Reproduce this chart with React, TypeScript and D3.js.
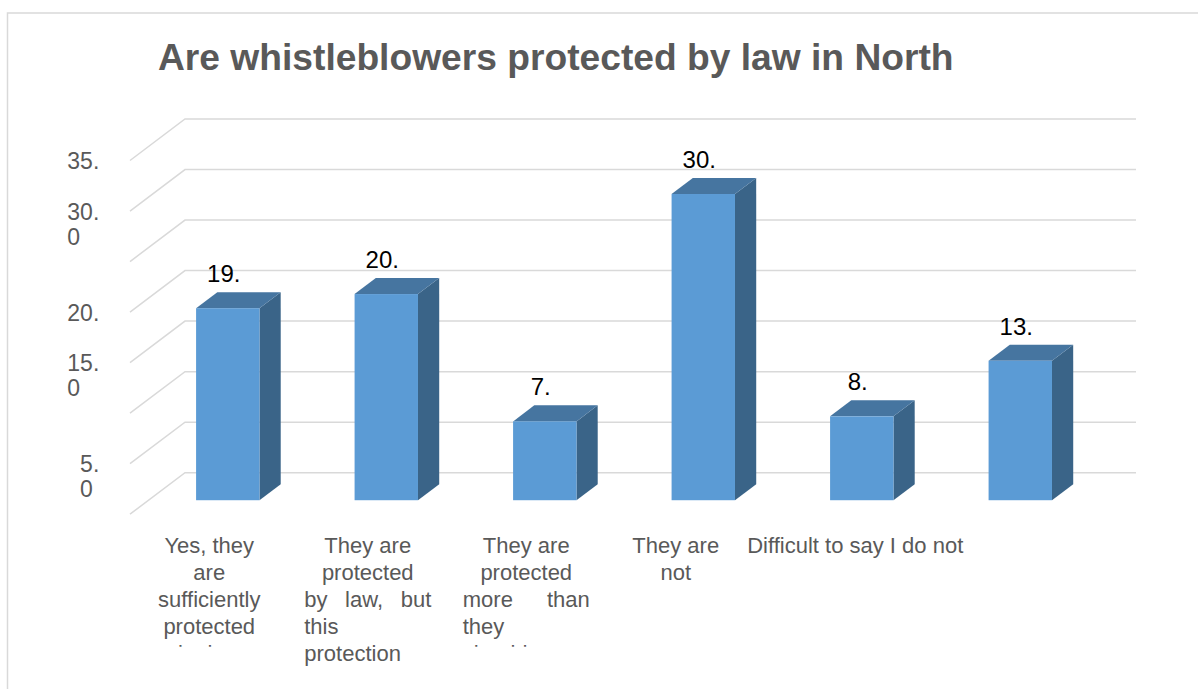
import React from "react";
import * as d3 from "d3";

const title = "Are whistleblowers protected by law in North";
const categoryKeys = ["yes", "butInsufficient", "more", "not", "difficult", "other"];
const values = [19.0, 20.4, 7.8, 30.3, 8.3, 13.8];
const categoryLines = [
  ["Yes, they", "are", "sufficiently", "protected", "by law"],
  ["They are", "protected", "by law, but", "this", "protection"],
  ["They are", "protected", "more than", "they", "should"],
  ["They are", "not"],
  ["Difficult to say I do not"],
  [],
];
const categoryVisibleLines = [4, 5, 4, 2, 1, 0];
const yGridValues = [0, 5, 10, 15, 20, 25, 30, 35];
const yTickValues = [35, 30, 20, 15, 5];
const yTickLines = [["35."], ["30.", "0"], ["20."], ["15.", "0"], ["5.", "0"]];

const W = 1198;
const H = 689;
const FONT = "'Liberation Sans', Arial, Helvetica, sans-serif";
const GRID = "#D9D9D9";
const TEXT = "#595959";
const DX = -55; // depth vector from back wall (z=0) to front edge (z=1)
const DY = 41.5;
const Z_FRONT = 0.663;
const Z_BACK = 0.277;
const JUSTIFY = new Set([1, 2]);
const BLOCK_W = 127;
const LABEL_NUDGE = [0, 0, 0, -9, 12, 0];
const CAT_FS = 22;

let ctx: CanvasRenderingContext2D | null = null;
function measure(s: string, fs: number) {
  if (!ctx) ctx = document.createElement("canvas").getContext("2d");
  if (!ctx) return s.length * fs * 0.5;
  ctx.font = `${fs}px 'Liberation Sans', Arial, sans-serif`;
  return ctx.measureText(s).width;
}

export default function App() {
  const x = d3.scaleBand<string>().domain(categoryKeys).range([185, 1136]).padding(0);
  const y = d3.scaleLinear().domain([0, 35]).range([472.7, 119]);
  const bw = x.bandwidth();
  const barW = bw * 0.4;
  const fx = DX * Z_FRONT, fy = DY * Z_FRONT;
  const sx = DX * (Z_BACK - Z_FRONT), sy = DY * (Z_BACK - Z_FRONT);
  const pts = (a: number[][]) => a.map((p) => p.join(",")).join(" ");
  const lineH = 26.8;
  const labelTop = 553.3;

  return (
    <svg width={W} height={H} style={{ position: "absolute", left: 0, top: 0, background: "#fff" }}>
      <defs>
        {categoryKeys.map((k, i) => (
          <clipPath id={`clip-${i}`} key={k}>
            <rect x={0} y={0} width={W} height={labelTop + (categoryVisibleLines[i] - 1) * lineH + 13} />
          </clipPath>
        ))}
      </defs>
      <rect x={7.5} y={13} width={W} height={H} fill="none" stroke={GRID} strokeWidth={1.5} />
      <text x={158} y={69.5} fontFamily={FONT} fontWeight="bold" fontSize={37.2} fill={TEXT}>{title}</text>

      {yGridValues.map((v) => {
        const yy = y(v);
        const x0 = x.range()[0], x1 = x.range()[1];
        return (
          <path key={v} d={`M${x0 + DX},${yy + DY}L${x0},${yy}L${x1},${yy}`} fill="none" stroke={GRID} strokeWidth={1.5} />
        );
      })}

      {yTickValues.map((v, i) => {
        const lines = yTickLines[i];
        const fs = 23;
        const left = 99.3 - measure(lines[0], fs);
        return (
          <text key={v} fontFamily={FONT} fontSize={fs} fill={TEXT}>
            {lines.map((l, j) => (
              <tspan key={j} x={left} y={y(v) + DY + 8.5 + j * 25.3}>{l}</tspan>
            ))}
          </text>
        );
      })}

      {categoryKeys.map((k, i) => {
        const v = values[i];
        const left = (x(k) as number) + (bw - barW) / 2 + fx;
        const right = left + barW;
        const top = y(v) + fy;
        const bottom = y(0) + fy;
        return (
          <g key={k}>
            <polygon points={pts([[right, top], [right + sx, top + sy], [right + sx, bottom + sy], [right, bottom]])} fill="#3A6488" />
            <polygon points={pts([[left, top], [right, top], [right + sx, top + sy], [left + sx, top + sy]])} fill="#4675A0" />
            <rect x={left} y={top} width={barW} height={bottom - top} fill="#5B9BD5" />
            <text x={(left + right) / 2 - 4} y={top + sy - 10} textAnchor="middle" fontFamily={FONT} fontSize={24} fill="#000">
              {v.toFixed(1).slice(0, -1)}
            </text>
          </g>
        );
      })}

      {categoryKeys.map((k, i) => {
        const cx = (x(k) as number) + bw / 2 + DX + LABEL_NUDGE[i];
        const lines = categoryLines[i];
        const justify = JUSTIFY.has(i);
        const firstJust = justify ? lines.findIndex((l, j) => j > 0 && l.includes(" ")) : -1;
        const bl = cx - BLOCK_W / 2;
        return (
          <g key={k} clipPath={`url(#clip-${i})`} fontFamily={FONT} fontSize={CAT_FS} fill={TEXT}>
            {lines.map((l, j) => {
              const yy = labelTop + j * lineH;
              if (!justify || j < firstJust) {
                return <text key={j} x={cx} y={yy} textAnchor="middle">{l}</text>;
              }
              if (j === firstJust) {
                const words = l.split(" ");
                const ws = words.map((w) => measure(w, CAT_FS));
                const gap = (BLOCK_W - d3.sum(ws)) / (words.length - 1);
                let cur = bl;
                return (
                  <text key={j} y={yy}>
                    {words.map((w, m) => {
                      const xx = cur;
                      cur += ws[m] + gap;
                      return <tspan key={m} x={xx}>{w}</tspan>;
                    })}
                  </text>
                );
              }
              return <text key={j} x={bl} y={yy}>{l}</text>;
            })}
          </g>
        );
      })}
    </svg>
  );
}
